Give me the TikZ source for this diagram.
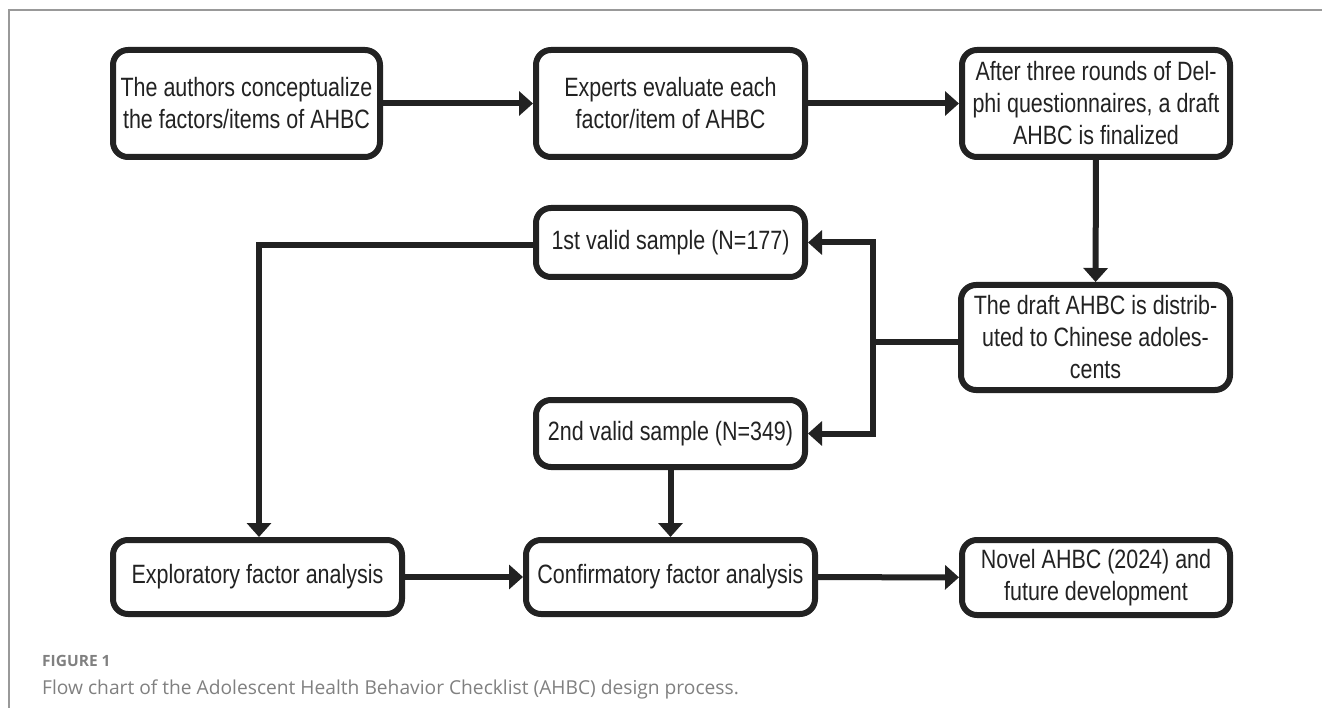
\documentclass[tikz,border=0pt]{standalone}
\usepackage{fontspec}
\newfontfamily\boxfont[FakeStretch=0.81]{Liberation Sans}
\newfontfamily\capfont{Open Sans}
\usetikzlibrary{arrows.meta}
\definecolor{ink}{HTML}{222222}
\definecolor{framegray}{HTML}{999999}
\definecolor{capgray}{HTML}{808080}
\begin{document}
\begin{tikzpicture}[x=1pt,y=-1pt,
  flowbox/.style={draw=ink, line width=6pt, rounded corners=15pt, fill=white,
    align=center, inner sep=0pt, text=ink,
    font=\boxfont\fontsize{26.5}{32}\selectfont},
  arr/.style={draw=ink, line width=6pt, -{Triangle[length=14pt,width=24pt]}},
  plainline/.style={draw=ink, line width=6pt}]
\useasboundingbox (0,0) rectangle (1322,708);
\draw[framegray, line width=1.5pt] (1322,10) -- (9,10) -- (9,708);

\node[flowbox, minimum width=267pt, minimum height=107pt] (b1) at (246.5,103.5)
  {The authors conceptualize\\the factors/items of AHBC};
\node[flowbox, minimum width=269pt, minimum height=107pt] (b2) at (670.5,103.5)
  {Experts evaluate each\\factor/item of AHBC};
\node[flowbox, minimum width=268pt, minimum height=107pt] (b3) at (1096,103.5)
  {After three rounds of Del-\\phi questionnaires, a draft\\AHBC is finalized};
\node[flowbox, minimum width=269pt, minimum height=105pt] (b4) at (1095.5,337.5)
  {The draft AHBC is distrib-\\uted to Chinese adoles-\\cents};
\node[flowbox, minimum width=269pt, minimum height=69pt] (b5) at (670.5,242.5)
  {1st valid sample (N=177)};
\node[flowbox, minimum width=269pt, minimum height=67pt] (b6) at (670.5,433.5)
  {2nd valid sample (N=349)};
\node[flowbox, minimum width=289pt, minimum height=74pt] (efa) at (257.5,577)
  {Exploratory factor analysis};
\node[flowbox, minimum width=289pt, minimum height=74pt] (cfa) at (670.5,577)
  {Confirmatory factor analysis};
\node[flowbox, minimum width=268pt, minimum height=75pt] (nov) at (1096,577.5)
  {Novel AHBC (2024) and\\future development};

\coordinate (fork) at (873,342);
\coordinate (lcorner) at (259,245);

\draw[arr] (b1) -- (b2);
\draw[arr] (b2) -- (b3);
\draw[arr] (b3) -- (b4);
\draw[plainline] (b4.west |- fork) -- (fork);
\draw[arr] (fork) |- (b5.east);
\draw[arr] (fork) |- (b6.east);
\draw[arr] (b5.west |- lcorner) -- (lcorner) -- (lcorner |- efa.north);
\draw[arr] (b6) -- (cfa);
\draw[arr] (efa) -- (cfa);
\draw[arr] (cfa) -- (nov);

\node[anchor=west, inner sep=0pt, text=capgray, font=\capfont\bfseries\fontsize{15.5}{18}\selectfont] (figlab) at (42,661) {FIGURE 1};
\node[anchor=west, inner sep=0pt, text=capgray, font=\capfont\fontsize{19.2}{22}\selectfont] (figcap) at (42,689)
  {Flow chart of the Adolescent Health Behavior Checklist (AHBC) design process.};
\end{tikzpicture}
\end{document}
